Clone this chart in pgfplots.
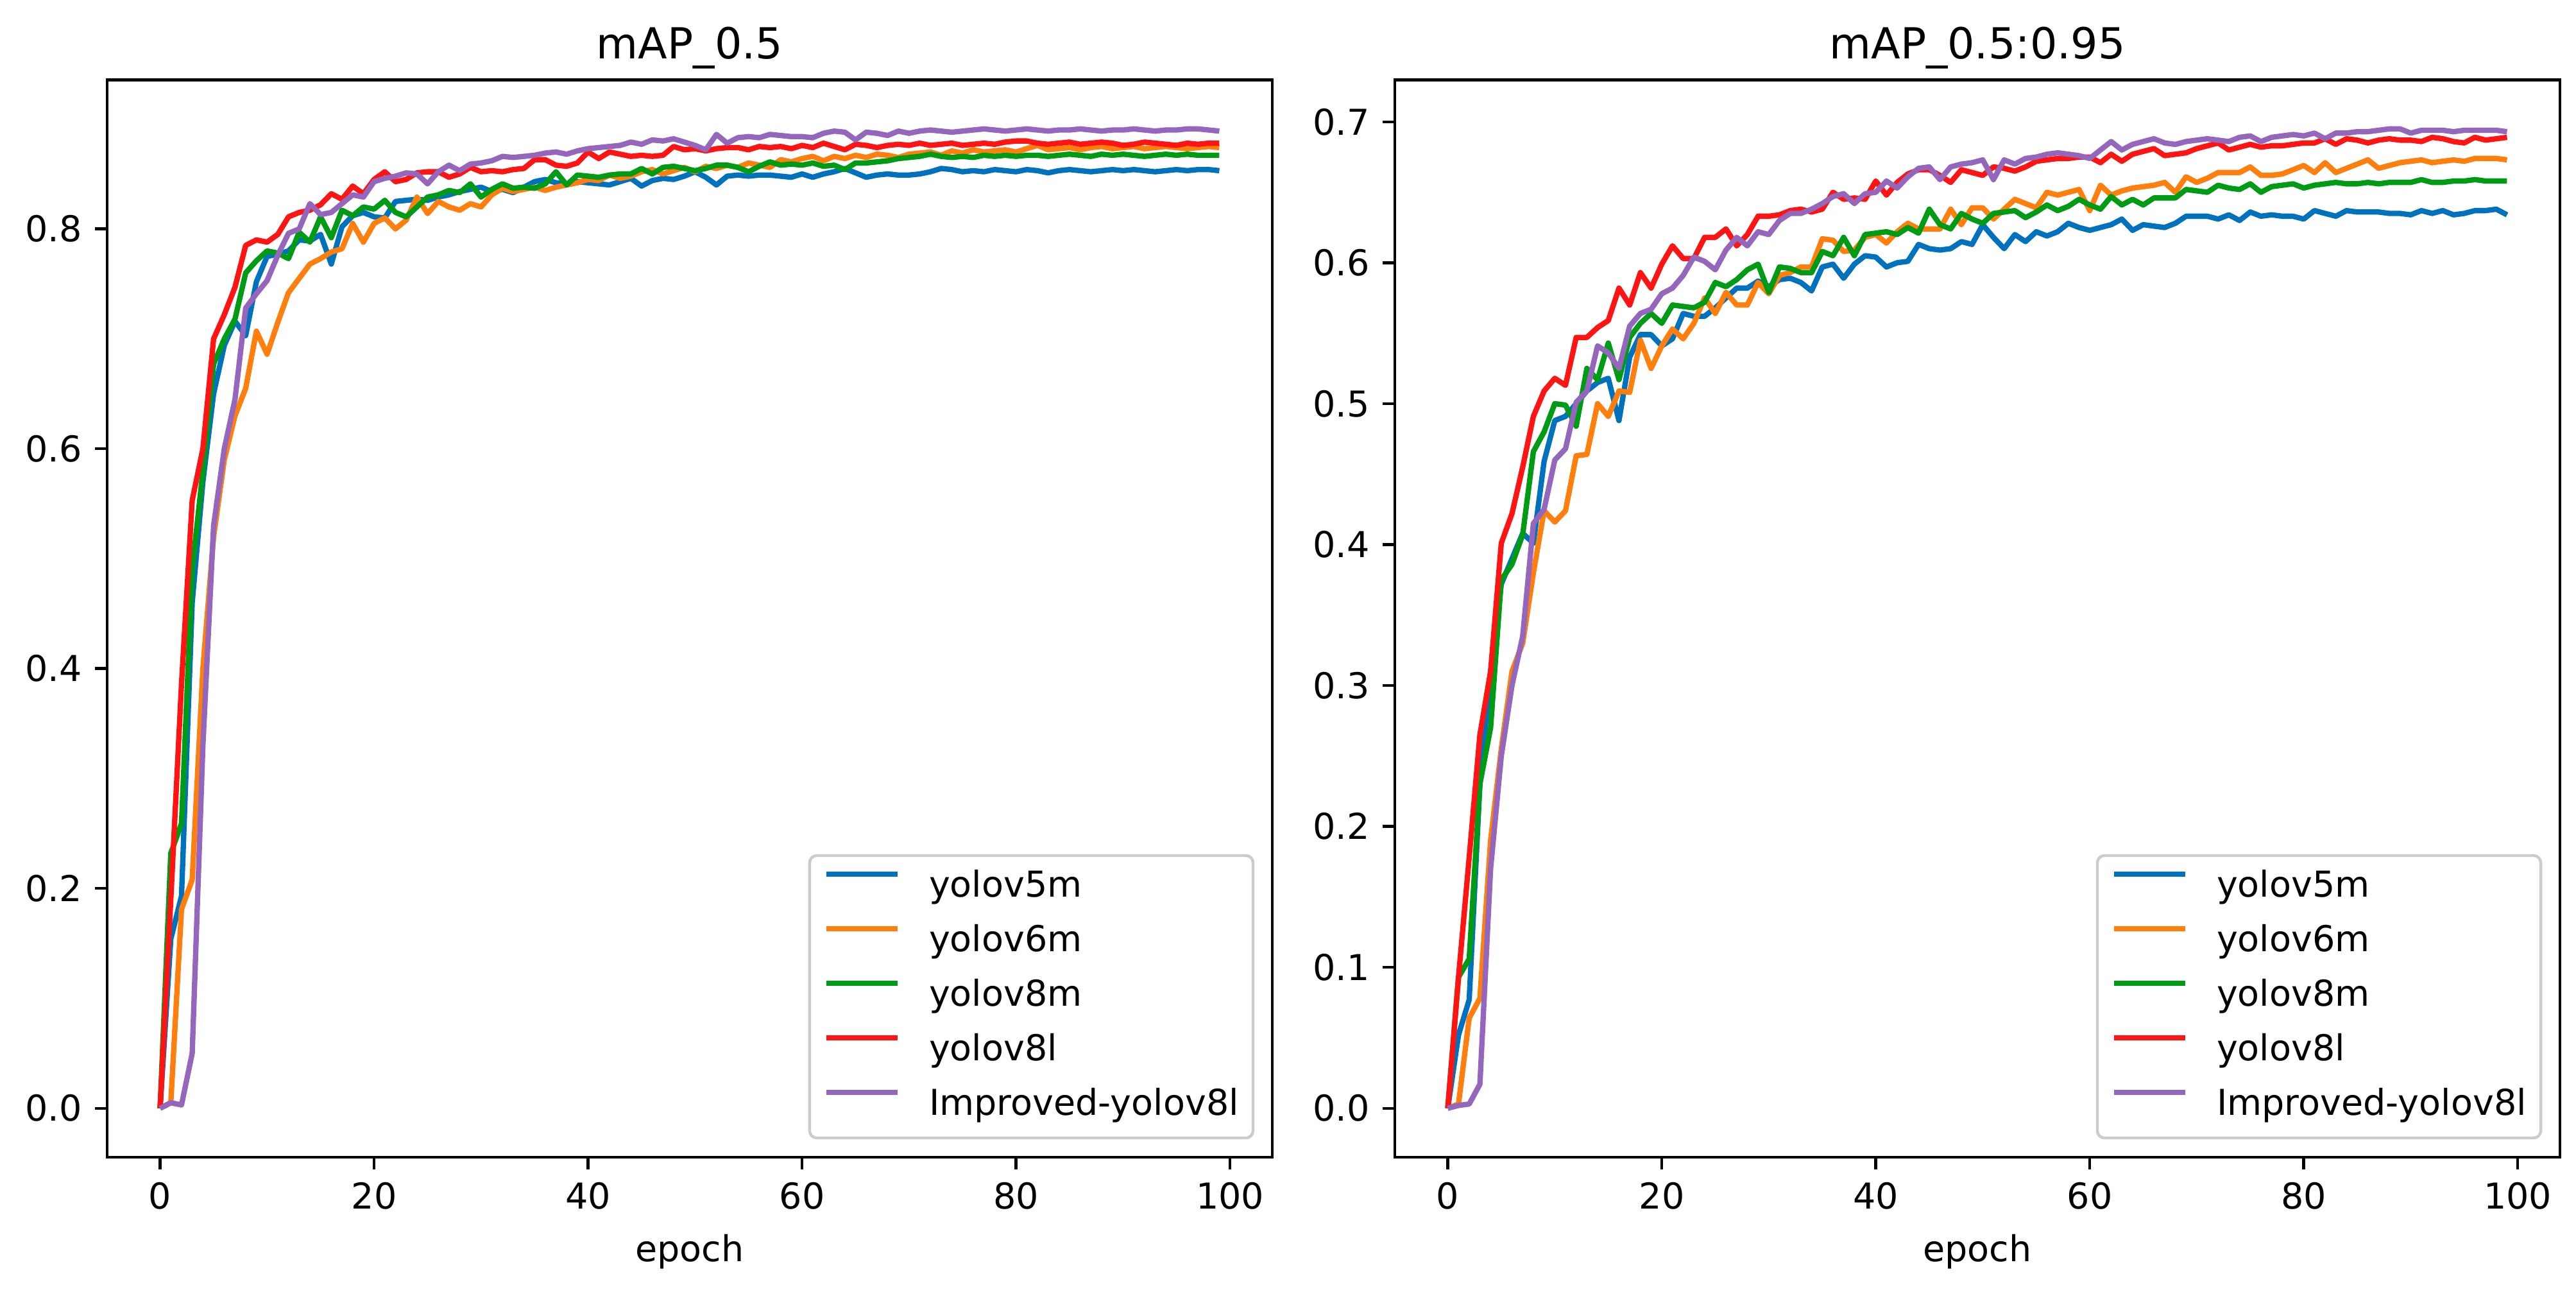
\documentclass[border=0pt]{standalone}
\usepackage{fontspec}
\setmainfont{DejaVu Sans}
\usepackage{pgfplots}
\usepackage{pgfplotstable}
\pgfplotsset{compat=1.18}

\definecolor{cblue}{RGB}{0,114,189}
\definecolor{corange}{RGB}{255,127,14}
\definecolor{cgreen}{RGB}{0,155,20}
\definecolor{cred}{RGB}{255,20,20}
\definecolor{cpurple}{RGB}{148,103,189}

% mAP_0.5 : epoch, yolov5m, yolov6m, yolov8m, yolov8l, Improved-yolov8l
\pgfplotstableread{
e b o g r p
0 0.000 0.000 0.000 0.000 0.000
1 0.154 0.005 0.232 0.190 0.005
2 0.193 0.181 0.259 0.386 0.003
3 0.460 0.208 0.490 0.553 0.050
4 0.570 0.400 0.580 0.600 0.330
5 0.650 0.520 0.677 0.700 0.530
6 0.694 0.590 0.700 0.722 0.600
7 0.716 0.630 0.718 0.747 0.645
8 0.703 0.655 0.760 0.785 0.728
9 0.752 0.707 0.771 0.790 0.741
10 0.775 0.686 0.780 0.788 0.753
11 0.777 0.715 0.778 0.795 0.776
12 0.780 0.742 0.773 0.811 0.796
13 0.790 0.755 0.797 0.815 0.800
14 0.789 0.768 0.788 0.817 0.823
15 0.795 0.773 0.811 0.822 0.813
16 0.768 0.779 0.792 0.832 0.815
17 0.802 0.782 0.817 0.827 0.823
18 0.812 0.805 0.812 0.839 0.831
19 0.815 0.788 0.820 0.832 0.829
20 0.811 0.805 0.818 0.845 0.843
21 0.810 0.810 0.826 0.852 0.846
22 0.825 0.800 0.815 0.843 0.848
23 0.826 0.808 0.811 0.845 0.851
24 0.827 0.829 0.820 0.851 0.850
25 0.826 0.814 0.829 0.852 0.841
26 0.829 0.825 0.831 0.852 0.852
27 0.831 0.820 0.835 0.847 0.858
28 0.834 0.817 0.833 0.850 0.853
29 0.836 0.823 0.841 0.856 0.859
30 0.838 0.820 0.829 0.852 0.860
31 0.834 0.831 0.836 0.853 0.862
32 0.836 0.837 0.841 0.852 0.866
33 0.833 0.834 0.837 0.854 0.865
34 0.838 0.836 0.838 0.855 0.866
35 0.843 0.838 0.837 0.863 0.867
36 0.845 0.835 0.841 0.863 0.869
37 0.842 0.838 0.852 0.858 0.870
38 0.841 0.840 0.840 0.857 0.868
39 0.843 0.842 0.849 0.860 0.871
40 0.842 0.845 0.848 0.870 0.873
41 0.841 0.844 0.847 0.864 0.874
42 0.840 0.849 0.849 0.870 0.875
43 0.843 0.846 0.850 0.868 0.876
44 0.846 0.848 0.850 0.866 0.879
45 0.839 0.852 0.855 0.867 0.877
46 0.844 0.854 0.850 0.866 0.881
47 0.846 0.850 0.856 0.867 0.880
48 0.845 0.853 0.857 0.875 0.882
49 0.848 0.856 0.855 0.872 0.879
50 0.852 0.852 0.853 0.873 0.876
51 0.847 0.857 0.855 0.871 0.872
52 0.840 0.855 0.858 0.873 0.886
53 0.848 0.858 0.858 0.874 0.878
54 0.849 0.856 0.856 0.874 0.883
55 0.848 0.860 0.852 0.872 0.884
56 0.849 0.858 0.857 0.875 0.883
57 0.849 0.856 0.861 0.874 0.886
58 0.848 0.863 0.858 0.875 0.885
59 0.847 0.861 0.859 0.873 0.884
60 0.850 0.864 0.858 0.876 0.884
61 0.847 0.866 0.860 0.874 0.883
62 0.850 0.862 0.857 0.878 0.887
63 0.852 0.866 0.858 0.875 0.889
64 0.855 0.864 0.854 0.872 0.888
65 0.851 0.867 0.860 0.877 0.881
66 0.847 0.865 0.860 0.876 0.888
67 0.849 0.868 0.861 0.874 0.887
68 0.850 0.867 0.862 0.876 0.885
69 0.849 0.865 0.864 0.877 0.889
70 0.849 0.868 0.865 0.876 0.887
71 0.850 0.869 0.866 0.878 0.889
72 0.852 0.870 0.868 0.876 0.890
73 0.855 0.867 0.866 0.877 0.889
74 0.854 0.871 0.865 0.878 0.888
75 0.852 0.869 0.866 0.876 0.889
76 0.853 0.872 0.865 0.877 0.890
77 0.852 0.870 0.867 0.878 0.891
78 0.854 0.871 0.866 0.877 0.890
79 0.853 0.872 0.867 0.879 0.889
80 0.852 0.870 0.866 0.880 0.890
81 0.854 0.873 0.867 0.880 0.891
82 0.853 0.876 0.867 0.878 0.890
83 0.851 0.872 0.866 0.877 0.889
84 0.853 0.873 0.867 0.878 0.890
85 0.854 0.874 0.868 0.879 0.890
86 0.853 0.872 0.867 0.877 0.891
87 0.852 0.874 0.866 0.878 0.890
88 0.853 0.875 0.868 0.879 0.889
89 0.854 0.873 0.867 0.878 0.890
90 0.853 0.874 0.868 0.876 0.890
91 0.854 0.875 0.867 0.877 0.891
92 0.853 0.873 0.866 0.879 0.890
93 0.852 0.874 0.867 0.878 0.889
94 0.853 0.875 0.868 0.877 0.890
95 0.854 0.874 0.867 0.876 0.890
96 0.853 0.873 0.868 0.878 0.891
97 0.854 0.874 0.867 0.877 0.891
98 0.854 0.875 0.867 0.878 0.890
99 0.853 0.874 0.867 0.878 0.889
}\mapfifty

% mAP_0.5:0.95
\pgfplotstableread{
e b o g r p
0 0.000 0.000 0.000 0.000 0.000
1 0.052 0.003 0.093 0.093 0.002
2 0.077 0.064 0.106 0.178 0.003
3 0.230 0.078 0.230 0.265 0.017
4 0.310 0.190 0.270 0.310 0.170
5 0.372 0.255 0.375 0.401 0.250
6 0.390 0.310 0.386 0.422 0.300
7 0.408 0.330 0.407 0.455 0.335
8 0.401 0.380 0.466 0.491 0.415
9 0.459 0.424 0.480 0.509 0.425
10 0.488 0.416 0.500 0.518 0.460
11 0.491 0.424 0.499 0.513 0.468
12 0.500 0.463 0.484 0.547 0.501
13 0.509 0.464 0.525 0.547 0.509
14 0.515 0.500 0.517 0.554 0.541
15 0.518 0.491 0.543 0.559 0.536
16 0.488 0.509 0.517 0.582 0.525
17 0.533 0.508 0.547 0.570 0.555
18 0.549 0.545 0.557 0.593 0.564
19 0.549 0.525 0.564 0.582 0.567
20 0.541 0.541 0.557 0.599 0.578
21 0.546 0.553 0.570 0.612 0.582
22 0.564 0.546 0.569 0.603 0.591
23 0.562 0.557 0.568 0.603 0.604
24 0.562 0.575 0.572 0.618 0.601
25 0.568 0.564 0.586 0.618 0.595
26 0.575 0.579 0.583 0.624 0.609
27 0.582 0.570 0.588 0.612 0.618
28 0.582 0.570 0.595 0.620 0.612
29 0.587 0.586 0.599 0.633 0.622
30 0.583 0.578 0.579 0.633 0.620
31 0.588 0.591 0.597 0.634 0.630
32 0.589 0.593 0.596 0.637 0.635
33 0.586 0.597 0.593 0.638 0.635
34 0.580 0.597 0.593 0.636 0.638
35 0.597 0.617 0.608 0.638 0.642
36 0.599 0.616 0.605 0.650 0.647
37 0.589 0.608 0.618 0.645 0.649
38 0.599 0.609 0.605 0.646 0.642
39 0.605 0.618 0.620 0.645 0.649
40 0.604 0.620 0.621 0.658 0.650
41 0.597 0.614 0.622 0.648 0.658
42 0.600 0.622 0.620 0.657 0.653
43 0.601 0.628 0.625 0.663 0.661
44 0.613 0.624 0.621 0.666 0.667
45 0.610 0.624 0.638 0.666 0.668
46 0.609 0.624 0.627 0.662 0.659
47 0.610 0.638 0.624 0.657 0.668
48 0.615 0.627 0.635 0.666 0.670
49 0.613 0.639 0.631 0.664 0.671
50 0.627 0.639 0.628 0.662 0.673
51 0.618 0.631 0.635 0.668 0.659
52 0.610 0.638 0.636 0.667 0.673
53 0.620 0.645 0.637 0.665 0.670
54 0.615 0.642 0.632 0.668 0.674
55 0.622 0.639 0.636 0.672 0.675
56 0.619 0.650 0.641 0.673 0.677
57 0.622 0.648 0.637 0.674 0.678
58 0.628 0.650 0.640 0.674 0.677
59 0.625 0.652 0.645 0.675 0.676
60 0.623 0.637 0.641 0.675 0.674
61 0.625 0.655 0.638 0.671 0.680
62 0.627 0.648 0.647 0.677 0.686
63 0.631 0.651 0.641 0.672 0.680
64 0.623 0.653 0.645 0.677 0.684
65 0.627 0.654 0.641 0.679 0.686
66 0.626 0.655 0.646 0.681 0.688
67 0.625 0.657 0.646 0.676 0.685
68 0.628 0.650 0.646 0.677 0.684
69 0.633 0.661 0.652 0.678 0.686
70 0.633 0.657 0.651 0.681 0.687
71 0.633 0.660 0.650 0.683 0.688
72 0.631 0.664 0.655 0.685 0.687
73 0.634 0.664 0.653 0.680 0.686
74 0.630 0.664 0.652 0.682 0.689
75 0.636 0.668 0.656 0.684 0.690
76 0.633 0.662 0.650 0.682 0.686
77 0.634 0.662 0.654 0.683 0.689
78 0.633 0.663 0.655 0.683 0.690
79 0.633 0.666 0.656 0.684 0.691
80 0.631 0.669 0.653 0.685 0.690
81 0.637 0.664 0.655 0.685 0.692
82 0.635 0.671 0.656 0.688 0.688
83 0.633 0.664 0.657 0.684 0.692
84 0.637 0.667 0.656 0.688 0.692
85 0.636 0.670 0.656 0.687 0.693
86 0.636 0.673 0.657 0.685 0.693
87 0.636 0.667 0.656 0.687 0.694
88 0.635 0.669 0.657 0.688 0.695
89 0.635 0.671 0.657 0.687 0.695
90 0.634 0.672 0.657 0.687 0.692
91 0.637 0.673 0.659 0.686 0.694
92 0.635 0.671 0.657 0.689 0.694
93 0.637 0.672 0.657 0.688 0.694
94 0.634 0.673 0.658 0.686 0.693
95 0.635 0.672 0.658 0.685 0.694
96 0.637 0.674 0.659 0.689 0.694
97 0.637 0.674 0.658 0.687 0.694
98 0.638 0.674 0.658 0.688 0.694
99 0.634 0.673 0.658 0.689 0.693
}\mapall

\pgfplotsset{
  mpl/.style={
    scale only axis,
    width=326.88pt, height=302.13pt,
    anchor=south west,
    xmin=-4.95, xmax=103.95,
    xtick={0,20,...,100},
    tick pos=left,
    tick align=outside,
    major tick length=3.5pt,
    every tick/.style={black, line width=0.8pt},
    axis line style={line width=0.8pt},
    /pgf/number format/assume math mode=true,
    ticklabel style={font=\fontsize{10}{12}\selectfont},
    yticklabel style={/pgf/number format/.cd, fixed, fixed zerofill, precision=1},
    xlabel={epoch},
    xlabel style={font=\fontsize{10}{12}\selectfont, at={(axis description cs:0.5,0)}, anchor=base, yshift=-29.3pt},
    title style={font=\fontsize{12}{14}\selectfont, anchor=base},
    every axis plot/.append style={line width=1.5pt, line join=round, mark=none},
    legend cell align=left,
    legend image code/.code={\draw[line width=1.5pt] (0pt,3.8pt) -- (20pt,3.8pt);},
    legend style={
      at={(1,0)}, anchor=south east, xshift=-5pt, yshift=5pt,
      draw=black!20, line width=0.8pt, rounded corners=2pt,
      fill=white, fill opacity=0.8, text opacity=1,
      font=\fontsize{10}{12}\selectfont,
      inner xsep=4pt, inner ysep=4pt,
      row sep=5.3pt,
      nodes={inner sep=0pt, text height=7.6pt, text depth=2.4pt},
      /tikz/every odd column/.append style={column sep=8pt},
    },
  },
}

\begin{document}
\begin{tikzpicture}
\useasboundingbox (0,0) rectangle (722.7pt,362.16pt);

\begin{axis}[mpl, at={(30.06pt,37.62pt)},
    title={mAP\_0.5},
    ymin=-0.04455, ymax=0.93555,
    ytick={0,0.2,...,0.8}]
  \addplot[cblue] table[x=e,y=b] {\mapfifty};
  \addplot[corange] table[x=e,y=o] {\mapfifty};
  \addplot[cgreen] table[x=e,y=g] {\mapfifty};
  \addplot[cred] table[x=e,y=r] {\mapfifty};
  \addplot[cpurple] table[x=e,y=p] {\mapfifty};
  \legend{yolov5m,yolov6m,yolov8m,yolov8l,Improved-yolov8l}
\end{axis}

\begin{axis}[mpl, at={(391.32pt,37.62pt)},
    title={mAP\_0.5:0.95},
    ymin=-0.03475, ymax=0.72975,
    ytick={0,0.1,...,0.7}]
  \addplot[cblue] table[x=e,y=b] {\mapall};
  \addplot[corange] table[x=e,y=o] {\mapall};
  \addplot[cgreen] table[x=e,y=g] {\mapall};
  \addplot[cred] table[x=e,y=r] {\mapall};
  \addplot[cpurple] table[x=e,y=p] {\mapall};
  \legend{yolov5m,yolov6m,yolov8m,yolov8l,Improved-yolov8l}
\end{axis}
\end{tikzpicture}
\end{document}
